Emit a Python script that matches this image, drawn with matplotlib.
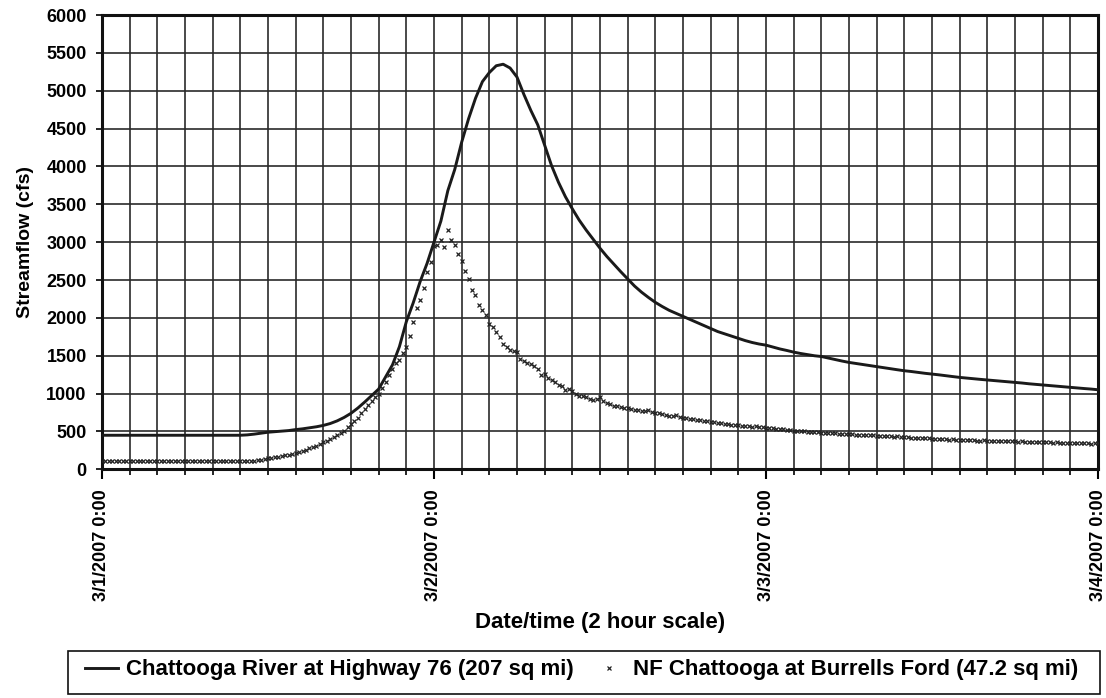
import pandas as pd
import matplotlib
matplotlib.use("Agg")
import matplotlib.pyplot as plt
import matplotlib.dates as mdates
from matplotlib.patches import Rectangle

plt.rcParams['font.family'] = ['Liberation Sans', 'DejaVu Sans']
plt.rcParams['font.weight'] = 'bold'

# Chattooga River at Highway 76, 30-minute readings from 3/1/2007 0:00 to 3/4/2007 0:00 (cfs)
hwy76_flow = [
    450, 450, 450, 450,   450, 450, 450, 450,   450, 450, 450, 450,
    450, 450, 450, 450,   450, 450, 450, 450,   450, 455, 465, 478,
    490, 497, 505, 512,   525, 535, 548, 562,   580, 605, 640, 685,
    740, 810, 890, 975,   1060, 1220, 1380, 1620,   1950, 2200, 2480, 2720,
    3000, 3280, 3680, 3960,   4320, 4630, 4900, 5120,   5240, 5330, 5350, 5300,
    5180, 4950, 4740, 4550,   4280, 4010, 3790, 3600,   3440, 3290, 3160, 3040,
    2920, 2810, 2710, 2610,   2515, 2420, 2340, 2270,   2205, 2150, 2100, 2060,
    2020, 1980, 1940, 1900,   1860, 1820, 1790, 1760,   1730, 1700, 1675, 1655,
    1640, 1615, 1590, 1570,   1548, 1530, 1515, 1500,   1490, 1470, 1450, 1430,
    1412, 1398, 1385, 1370,   1355, 1342, 1328, 1315,   1302, 1292, 1280, 1268,
    1258, 1248, 1236, 1225,   1214, 1205, 1196, 1188,   1180, 1172, 1164, 1156,
    1148, 1140, 1130, 1122,   1113, 1106, 1098, 1090,   1082, 1075, 1067, 1060,
    1051,
]

# NF Chattooga at Burrells Ford, 15-minute readings over the same period (cfs)
burrells_flow = [
    110, 110, 110, 110, 110, 110, 110, 110,
    110, 110, 110, 110, 110, 110, 110, 110,
    110, 110, 110, 110, 110, 110, 110, 110,
    110, 110, 110, 110, 110, 110, 110, 110,
    110, 110, 110, 110, 110, 110, 110, 110,
    110, 110, 110, 110, 112, 118, 125, 135,
    145, 150, 158, 165, 176, 185, 195, 207,
    220, 232, 245, 260, 277, 292, 310, 335,
    360, 380, 400, 425, 450, 480, 510, 555,
    600, 640, 680, 740, 800, 850, 900, 950,
    990, 1080, 1150, 1240, 1330, 1400, 1450, 1530,
    1620, 1760, 1940, 2130, 2240, 2390, 2600, 2740,
    2950, 2960, 3035, 2940, 3165, 3035, 2960, 2850,
    2750, 2620, 2510, 2370, 2305, 2175, 2110, 2035,
    1925, 1880, 1820, 1750, 1660, 1620, 1580, 1560,
    1555, 1460, 1430, 1410, 1395, 1360, 1330, 1240,
    1260, 1200, 1180, 1150, 1120, 1105, 1045, 1060,
    1040, 1000, 975, 965, 955, 935, 910, 925,
    950, 905, 880, 860, 840, 835, 820, 815,
    810, 800, 790, 780, 770, 765, 790, 760,
    745, 740, 730, 720, 710, 705, 715, 690,
    680, 675, 670, 660, 650, 645, 640, 635,
    625, 630, 615, 610, 600, 595, 590, 592,
    583, 578, 575, 570, 565, 568, 560, 555,
    550, 545, 540, 538, 530, 527, 522, 515,
    510, 505, 512, 500, 498, 495, 490, 492,
    485, 482, 478, 480, 475, 470, 468, 472,
    465, 462, 460, 455, 452, 450, 448, 450,
    445, 442, 446, 438, 436, 432, 434, 430,
    428, 424, 420, 418, 415, 418, 410, 408,
    405, 402, 398, 400, 395, 392, 398, 390,
    390, 388, 385, 390, 382, 380, 378, 384,
    378, 376, 380, 374, 376, 372, 368, 372,
    370, 366, 368, 364, 366, 360, 362, 358,
    360, 355, 360, 352, 356, 350, 354, 348,
    354, 348, 345, 350, 342, 346, 340, 345,
    345,
]

hwy76_times = pd.date_range('2007-03-01 00:00', periods=len(hwy76_flow), freq='30min')
burrells_times = pd.date_range('2007-03-01 00:00', periods=len(burrells_flow), freq='15min')

day_ticks = pd.to_datetime(['2007-03-01', '2007-03-02', '2007-03-03', '2007-03-04'])
day_labels = ['3/1/2007 0:00', '3/2/2007 0:00', '3/3/2007 0:00', '3/4/2007 0:00']

series_names = ['Chattooga River at Highway 76 (207 sq mi)',
                'NF Chattooga at Burrells Ford (47.2 sq mi)']

W, H = 1106, 698
fig = plt.figure(figsize=(W / 100, H / 100), dpi=100)
ax = fig.add_axes([0.0922, 0.3276, 0.9006, 0.6509])

ax.plot(hwy76_times, hwy76_flow, color='#1a1a1a', lw=2.1, label=series_names[0], zorder=3)
ax.plot(burrells_times, burrells_flow, ls='none', marker='x', ms=3.3, mew=0.9,
        color='#222222', label=series_names[1], zorder=4)

ax.set_xlim(day_ticks[0], day_ticks[-1])
ax.set_ylim(0, 6000)
ax.set_yticks(range(0, 6001, 500))

ax.set_xticks(day_ticks)
ax.set_xticklabels(day_labels, rotation=90, fontsize=13, fontweight='bold')
ax.xaxis.set_minor_locator(mdates.HourLocator(interval=2))
for lab in ax.get_yticklabels():
    lab.set_fontsize(13)
    lab.set_fontweight('bold')

ax.grid(True, which='both', axis='x', color='#2a2a2a', lw=1.2)
ax.grid(True, which='major', axis='y', color='#2a2a2a', lw=1.2)
ax.set_axisbelow(True)

for sp in ax.spines.values():
    sp.set_linewidth(2.2)
    sp.set_color('#111111')

ax.tick_params(axis='y', direction='out', length=4, width=1.2, pad=7)
ax.tick_params(axis='x', which='major', direction='out', length=7, width=1.5, pad=7)
ax.tick_params(axis='x', which='minor', direction='out', length=4, width=1.2)

ax.set_xlabel('Date/time (2 hour scale)', fontsize=16, fontweight='bold')
ax.set_ylabel('Streamflow (cfs)', fontsize=14, fontweight='bold')
ax.xaxis.set_label_coords(0.5, -0.315)
ax.yaxis.set_label_coords(-0.068, 0.5)

# legend box drawn separately so its edges line up with the original
fig.add_artist(Rectangle((68 / W, 4 / H), 1032 / W, 43 / H, transform=fig.transFigure,
                         fill=False, edgecolor='#111111', lw=1.2))
leg = fig.legend(loc='center left', bbox_to_anchor=(85 / W, 1 - 670 / H),
                 ncol=2, fontsize=16, frameon=False, handlelength=1.5,
                 handletextpad=0.36, columnspacing=0.8, borderpad=0, borderaxespad=0)
for t in leg.get_texts():
    t.set_fontweight('bold')

fig.savefig('out.png', dpi=100)
